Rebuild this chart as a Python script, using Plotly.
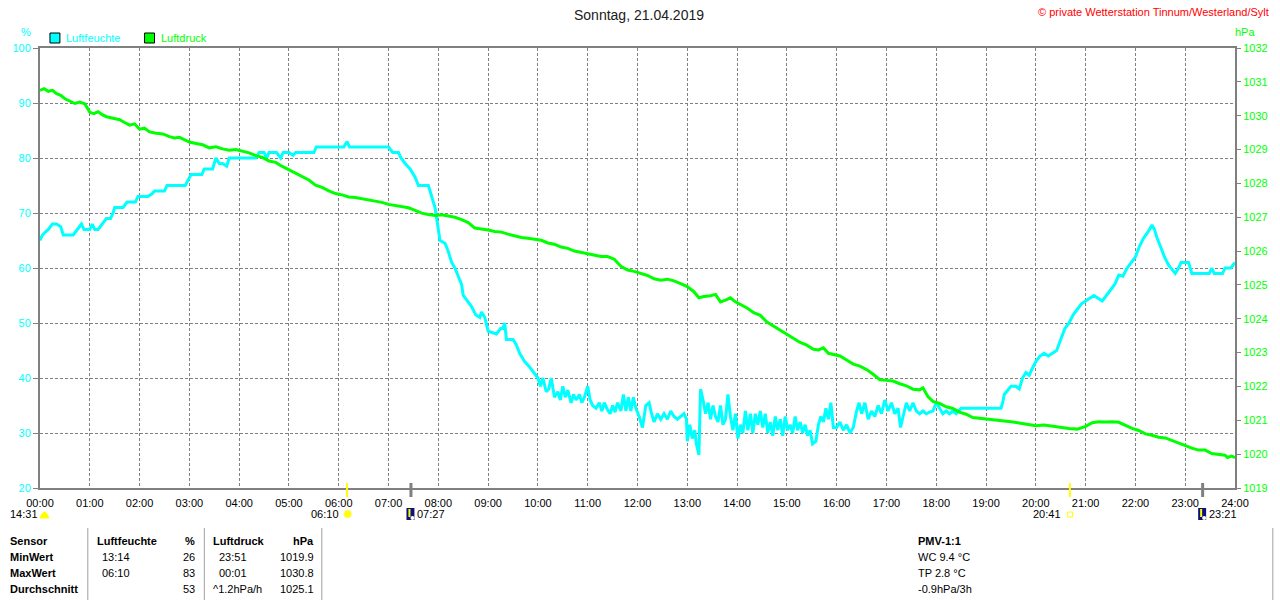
import plotly.graph_objects as go

# ---------------- data ----------------
hour_labels = ["%02d:00" % h for h in range(25)]

hum_time = ["00:00","00:03","00:06","00:10","00:15","00:20","00:25","00:28","00:35","00:40","00:45","00:50","00:53","00:58",
 "01:00","01:03","01:06","01:10","01:15","01:20","01:25","01:28","01:30","01:40","01:45","01:55","01:58","02:10","02:15","02:18",
 "02:30","02:33","02:55","02:58","03:02","03:15","03:18","03:28","03:30","03:32","03:36","03:40","03:45","03:48","03:55","04:00",
 "04:20","04:24","04:30","04:33","04:36","04:45","04:50","04:53","05:00","05:05","05:08","05:30","05:33","05:45","06:06","06:10",
 "06:13","07:00","07:05","07:12","07:15","07:20","07:26","07:32","07:36","07:48","07:52","07:56","07:59","08:02","08:08","08:12",
 "08:16","08:20","08:24","08:28","08:30","08:35","08:40","08:45","08:50","08:52","08:56","09:00","09:10","09:15","09:18","09:20",
 "09:22","09:30","09:34","09:38","09:44","09:50","09:55","10:00","10:03","10:06","10:10","10:13","10:16","10:20","10:24","10:27",
 "10:30","10:33","10:36","10:40","10:43","10:46","10:50","10:53","10:56","11:00","11:03","11:06","11:10","11:14","11:17","11:20",
 "11:24","11:27","11:30","11:33","11:36","11:40","11:43","11:46","11:49","11:52","11:55","11:58","12:02","12:06","12:10","12:14",
 "12:17","12:20","12:24","12:28","12:32","12:36","12:40","12:44","12:48","12:52","12:56","12:59","13:00","13:03","13:06","13:09",
 "13:11","13:14","13:16","13:19","13:22","13:25","13:28","13:31","13:34","13:37","13:40","13:43","13:46","13:49","13:52","13:55",
 "13:58","14:01","14:04","14:07","14:10","14:13","14:16","14:19","14:22","14:25","14:28","14:31","14:34","14:37","14:40","14:43",
 "14:46","14:49","14:52","14:55","14:58","15:01","15:04","15:07","15:10","15:13","15:16","15:19","15:22","15:25","15:28","15:31",
 "15:35","15:38","15:41","15:44","15:47","15:50","15:53","15:56","16:00","16:04","16:08","16:12","16:16","16:20","16:24","16:27",
 "16:30","16:34","16:38","16:42","16:46","16:50","16:54","16:58","17:02","17:06","17:10","17:14","17:17","17:20","17:24","17:28",
 "17:32","17:36","17:40","17:44","17:48","17:52","17:56","18:00","18:04","18:08","18:12","18:16","18:20","18:24","18:30","18:40",
 "18:50","19:00","19:10","19:18","19:20","19:22","19:30","19:36","19:40","19:44","19:48","19:52","19:55","20:00","20:05","20:10",
 "20:15","20:20","20:25","20:30","20:35","20:40","20:45","20:50","20:55","21:00","21:05","21:10","21:15","21:20","21:25","21:30",
 "21:35","21:40","21:45","21:50","21:55","22:00","22:05","22:10","22:15","22:20","22:23","22:26","22:30","22:35","22:40","22:45",
 "22:48","22:52","22:55","23:00","23:04","23:08","23:15","23:25","23:29","23:32","23:35","23:45","23:48","23:55","24:00"]

hum_val = [65,66,66.5,67,68,68,67.5,66,66,66,67,68,67,67,
 67,68,67,67,68,69,69,70,71,71,72,72,73,73,73.5,74,
 74,75,75,76,77,77,78,78,79,80,79,79,78.5,80,80,80,
 80,81,81,80,81,81,80,81,81,80.5,81,81,82,82,82,83,
 82,82,81,81,80,79,78,76.5,75,75,73,71,68,65,64.5,63,
 61,60,58.5,57,55,54,53,51.5,51,52,51,48.5,48,49,49,50,
 47,47,46,44.5,43,42,41,40,38.5,40,37.5,38,40,36.5,37.5,36,
 38.5,36.5,37.8,35.5,37,36,37,35.5,36.5,38.5,36,35,34.5,35.5,34,35.5,
 34.2,33.5,35,33.8,35.5,34,37,34,36.5,34,36.5,34.5,33,31,35,35.5,
 33.5,32,33.5,32.5,33.5,32.5,34,33,32.5,33,33.5,32.5,28.5,31.5,29,30.5,
 28,26,38,36,33.5,35.5,32.5,35,33,32,35,31.5,32.5,37,33,30.5,
 33.5,29,31.5,30,34,30.5,33.5,30,33.5,31.5,34,31,33.5,30,32,29.5,
 33,30.5,32.5,29.5,33,30.5,31.5,30,33,30.5,32,30,31.5,29.5,30.5,28,
 28.5,31.5,33,32,34.5,32.5,35.5,31,31,32,30.5,31.5,30,31,34,35.5,
 33.5,35.5,32.5,34,33,35,33.5,36,34,35.5,33.5,34.5,31,33,35.5,34,
 35.5,34,33.5,34,33.5,33.8,34,35.5,34.5,33.5,34,33.5,34,33.5,34.5,34.5,
 34.5,34.5,34.5,34.5,35.5,37,38.5,38.5,38,40,41,40.5,41.5,43,44,44.5,
 44,44.5,45,47,49,50,51.5,52.5,53.5,54,54.5,55,54.5,54,55,56,
 57,58.7,58.5,60,61,62,64,65.5,66.5,67.8,67,65.5,64,62,60.5,59.5,
 59,60,61,61,61,59,59,59,59,60,59,59,60,60,61]

pres_time = ["00:00","00:05","00:10","00:15","00:20","00:25","00:30","00:36","00:42","00:48","00:54","01:00","01:05","01:10",
 "01:15","01:20","01:28","01:36","01:42","01:48","01:54","02:00","02:06","02:12","02:20","02:28","02:36","02:42","02:48","02:54",
 "03:00","03:08","03:16","03:24","03:32","03:40","03:48","03:56","04:04","04:12","04:20","04:28","04:36","04:44","04:52","05:00",
 "05:08","05:16","05:24","05:32","05:40","05:48","05:56","06:04","06:12","06:20","06:28","06:36","06:44","06:52","07:00","07:08",
 "07:16","07:24","07:32","07:40","07:48","07:56","08:04","08:12","08:20","08:28","08:36","08:44","08:52","09:00","09:08","09:16",
 "09:24","09:32","09:40","09:48","09:56","10:04","10:12","10:20","10:28","10:36","10:44","10:52","11:00","11:08","11:16","11:24",
 "11:32","11:40","11:48","11:56","12:04","12:12","12:20","12:28","12:36","12:44","12:52","13:00","13:08","13:14","13:20","13:28",
 "13:34","13:40","13:46","13:52","13:58","14:04","14:12","14:20","14:28","14:36","14:44","14:52","15:00","15:08","15:16","15:24",
 "15:32","15:38","15:44","15:50","15:56","16:04","16:12","16:20","16:28","16:36","16:44","16:52","17:00","17:08","17:16","17:24",
 "17:32","17:40","17:44","17:50","17:56","18:04","18:12","18:20","18:28","18:36","18:44","18:52","19:00","19:10","19:20","19:30",
 "19:40","19:50","20:00","20:10","20:20","20:30","20:40","20:50","21:00","21:08","21:16","21:24","21:32","21:40","21:48","21:56",
 "22:04","22:12","22:20","22:28","22:36","22:44","22:52","23:00","23:08","23:16","23:24","23:32","23:40","23:48","23:51","23:56","24:00"]

pres_val = [1030.75,1030.8,1030.72,1030.75,1030.65,1030.6,1030.5,1030.42,1030.36,1030.4,1030.35,1030.1,1030.06,1030.12,
 1030.03,1029.97,1029.93,1029.88,1029.8,1029.72,1029.76,1029.6,1029.63,1029.52,1029.48,1029.46,1029.38,1029.34,1029.36,1029.3,
 1029.22,1029.18,1029.14,1029.05,1029.08,1029.02,1028.98,1029.0,1028.95,1028.9,1028.82,1028.77,1028.66,1028.62,1028.5,1028.4,
 1028.3,1028.22,1028.1,1027.95,1027.88,1027.78,1027.7,1027.66,1027.6,1027.58,1027.55,1027.52,1027.47,1027.44,1027.38,1027.35,
 1027.3,1027.28,1027.2,1027.12,1027.08,1027.05,1027.07,1027.03,1027.0,1026.93,1026.84,1026.68,1026.66,1026.62,1026.58,1026.56,
 1026.5,1026.45,1026.4,1026.38,1026.34,1026.32,1026.24,1026.2,1026.12,1026.08,1026.0,1025.96,1025.9,1025.86,1025.84,1025.84,
 1025.76,1025.55,1025.44,1025.4,1025.33,1025.28,1025.18,1025.14,1025.17,1025.12,1025.04,1024.95,1024.8,1024.62,1024.66,1024.68,
 1024.72,1024.5,1024.55,1024.62,1024.5,1024.42,1024.32,1024.18,1024.1,1023.9,1023.78,1023.68,1023.55,1023.42,1023.3,1023.22,
 1023.1,1023.08,1023.14,1022.98,1022.94,1022.9,1022.78,1022.66,1022.6,1022.5,1022.36,1022.2,1022.18,1022.16,1022.08,1022.02,
 1021.92,1021.9,1021.96,1021.7,1021.56,1021.5,1021.4,1021.35,1021.24,1021.18,1021.08,1021.06,1021.05,1021.02,1020.98,1020.96,
 1020.92,1020.88,1020.84,1020.86,1020.82,1020.78,1020.76,1020.74,1020.82,1020.93,1020.96,1020.95,1020.96,1020.94,1020.85,1020.76,
 1020.7,1020.6,1020.56,1020.5,1020.48,1020.4,1020.34,1020.26,1020.18,1020.12,1020.12,1020.02,1020.0,1019.97,1019.9,1019.94,1019.9]

sun_moon_times = ["06:10", "07:27", "20:41", "23:21"]

table_rows = ["Sensor", "MinWert", "MaxWert", "Durchschnitt"]
hum_col_time = ["", "13:14", "06:10", ""]
hum_col_val = ["%", "26", "83", "53"]
pres_col_time = ["", "23:51", "00:01", "^1.2hPa/h"]
pres_col_val = ["hPa", "1019.9", "1030.8", "1025.1"]
pmv_lines = ["PMV-1:1", "WC 9.4 °C", "TP 2.8 °C", "-0.9hPa/3h"]

# ---------------- helpers ----------------
def to_hours(s):
    h, m = s.split(":")
    return int(h) + int(m) / 60.0

W, H = 1280, 600
L, R, T, B = 40, 1240, 48, 488

def px(x):
    return (x - L) / (R - L)

def py(y):
    return (B - y) / (B - T)

CYAN = "#00FFFF"
GREEN = "#00FF00"
GRAY = "#808080"
FONT = "Liberation Sans, Arial, sans-serif"

fig = go.Figure()
fig.add_trace(go.Scatter(x=[to_hours(t) for t in pres_time], y=pres_val, yaxis="y2",
                         mode="lines", line=dict(color=GREEN, width=3), hoverinfo="skip"))
fig.add_trace(go.Scatter(x=[to_hours(t) for t in hum_time], y=hum_val, yaxis="y",
                         mode="lines", line=dict(color=CYAN, width=3), hoverinfo="skip"))

annotations = []
shapes = []

def txt(x, y, s, color="black", size=11, anchor="left", bold=False):
    annotations.append(dict(x=px(x), y=py(y), xref="paper", yref="paper", text=("<b>%s</b>" % s) if bold else s,
                            showarrow=False, xanchor=anchor, yanchor="middle",
                            font=dict(family=FONT, size=size, color=color)))

# title + copyright
txt(642, 15, "Sonntag, 21.04.2019", color="#202020", size=14, anchor="center")
txt(1276, 12, "© private Wetterstation Tinnum/Westerland/Sylt", color="#FF0000", size=11, anchor="right")
# axis units
txt(26, 32, "%", color=CYAN, size=11, anchor="center")
txt(1250, 32, "hPa", color=GREEN, size=11, anchor="center")
# legend
for x0, col, name in [(50, CYAN, "Luftfeuchte"), (145, GREEN, "Luftdruck")]:
    shapes.append(dict(type="rect", xref="paper", yref="paper", x0=px(x0), x1=px(x0 + 10), y0=py(43), y1=py(33),
                       fillcolor=col, line=dict(color="black", width=1)))
    txt(x0 + 14, 38, name, color=col, size=11)

# sun / moon markers on the time axis
marker_cols = ["#FFFF00", GRAY, "#FFFF00", GRAY]
for t, col in zip(sun_moon_times, marker_cols):
    xx = L + to_hours(t) / 24 * (R - L)
    shapes.append(dict(type="line", xref="paper", yref="paper", x0=px(xx), x1=px(xx), y0=py(483), y1=py(497),
                       line=dict(color=col, width=3 if col == GRAY else 2)))

txt(8, 514, "14:31")
shapes.append(dict(type="path", xref="paper", yref="paper",
                   path="M %f %f L %f %f Q %f %f %f %f Z" % (px(40), py(518), px(49), py(518), px(44.5), py(506), px(40), py(518)),
                   fillcolor="#FFFF00", line=dict(color="#FFFF00", width=1)))
txt(342, 514, sun_moon_times[0], anchor="right")
shapes.append(dict(type="circle", xref="paper", yref="paper", x0=px(345), x1=px(353), y0=py(518), y1=py(510),
                   fillcolor="#FFFF00", line=dict(color="#FFF8A0", width=1)))
# moon icons
for x0, label, up in [(408, sun_moon_times[1], False), (1203, sun_moon_times[3], True)]:
    shapes.append(dict(type="rect", xref="paper", yref="paper", x0=px(x0), x1=px(x0 + 8), y0=py(520), y1=py(508),
                       fillcolor="#10107A", line=dict(width=0)))
    shapes.append(dict(type="circle", xref="paper", yref="paper", x0=px(x0 + 4), x1=px(x0 + 8), y0=py(520), y1=py(516),
                       fillcolor="white", line=dict(width=0)))
    shapes.append(dict(type="line", xref="paper", yref="paper", x0=px(x0 + 3), x1=px(x0 + 3), y0=py(509), y1=py(517),
                       line=dict(color="#FFFF00", width=2)))
    txt(x0 + 9, 514, label)
txt(1067, 514, sun_moon_times[2], anchor="right")
shapes.append(dict(type="rect", xref="paper", yref="paper", x0=px(1072), x1=px(1077), y0=py(517), y1=py(512),
                   fillcolor="white", line=dict(color="#FFFF00", width=1)))

# statistics table
for xl in [88, 205, 323, 1278]:
    shapes.append(dict(type="line", xref="paper", yref="paper", x0=px(xl), x1=px(xl), y0=py(528), y1=py(600),
                       line=dict(color="#A0A0A0", width=1)))
row_y = [541, 557, 573, 589]
for i, yy in enumerate(row_y):
    txt(8, yy, table_rows[i], bold=True)
    if i == 0:
        txt(95, yy, "Luftfeuchte", bold=True)
        txt(198, yy, hum_col_val[i], bold=True, anchor="right")
        txt(212, yy, "Luftdruck", bold=True)
        txt(317, yy, pres_col_val[i], bold=True, anchor="right")
        txt(920, yy, pmv_lines[i], bold=True)
    else:
        txt(100, yy, hum_col_time[i])
        txt(198, yy, hum_col_val[i], anchor="right")
        txt(218 if i < 3 else 212, yy, pres_col_time[i])
        txt(317, yy, pres_col_val[i], anchor="right")
        txt(920, yy, pmv_lines[i])

fig.update_layout(
    width=W, height=H,
    margin=dict(l=L, r=W - R, t=T, b=H - B, pad=0),
    paper_bgcolor="white", plot_bgcolor="white",
    showlegend=False,
    font=dict(family=FONT, size=11, color="black"),
    annotations=annotations, shapes=shapes,
    xaxis=dict(range=[0, 24], tickvals=list(range(25)), ticktext=hour_labels,
               showgrid=True, gridcolor=GRAY, griddash="3px,2px", gridwidth=1,
               showline=True, linecolor=GRAY, linewidth=2, mirror=True,
               ticks="outside", ticklen=4, tickcolor="rgba(0,0,0,0)",
               tickfont=dict(family=FONT, size=11, color="black"), zeroline=False, fixedrange=True),
    yaxis=dict(range=[20, 100], dtick=10, tick0=20,
               showgrid=True, gridcolor=GRAY, griddash="3px,2px", gridwidth=1,
               showline=True, linecolor=GRAY, linewidth=2,
               ticks="outside", ticklen=5, tickcolor=GRAY,
               tickfont=dict(family=FONT, size=11, color=CYAN), zeroline=False, fixedrange=True),
    yaxis2=dict(range=[1019, 1032], dtick=1, tick0=1019, overlaying="y", side="right",
                showgrid=False, showline=True, linecolor=GRAY, linewidth=2,
                ticks="outside", ticklen=4, tickcolor=GRAY,
                tickfont=dict(family=FONT, size=11, color=GREEN), zeroline=False, fixedrange=True),
)

fig.write_html("out.html", config={"displayModeBar": False},
               post_script="document.body.style.margin='0';document.body.style.overflow='hidden';")
